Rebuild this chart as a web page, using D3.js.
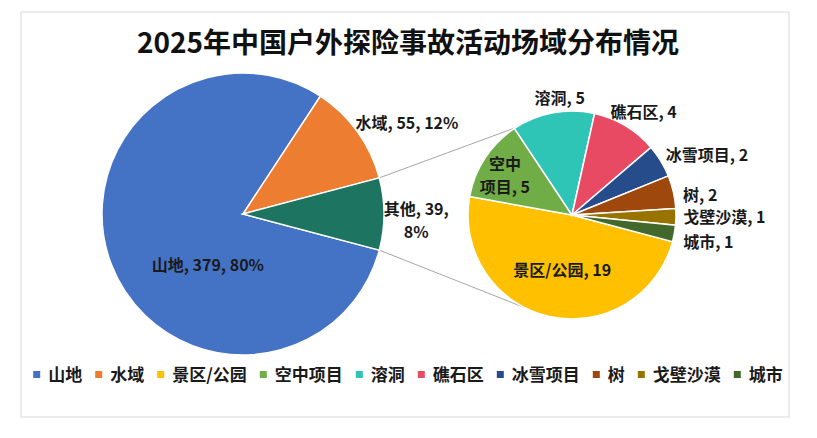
<!DOCTYPE html>
<html>
<head>
<meta charset="utf-8">
<script src="https://cdn.jsdelivr.net/npm/d3@7"></script>
<style>
  body { margin: 0; background: #fff; }
  svg { display: block; font-family: "Noto Sans CJK SC", "Noto Sans", sans-serif; }
</style>
</head>
<body>
<svg width="817" height="438"></svg>
<script>
// main pie
var mainNames = ["山地", "水域", "其他"];
var mainValues = [379, 55, 39];
// second pie, the split of "其他"
var subNames = ["景区/公园", "空中项目", "溶洞", "礁石区", "冰雪项目", "树", "戈壁沙漠", "城市"];
var subValues = [19, 5, 5, 4, 2, 2, 1, 1];
var legendNames = ["山地", "水域", "景区/公园", "空中项目", "溶洞", "礁石区", "冰雪项目", "树", "戈壁沙漠", "城市"];
var title = "2025年中国户外探险事故活动场域分布情况";

var colors = d3.scaleOrdinal()
  .domain(["山地", "水域", "其他", "景区/公园", "空中项目", "溶洞", "礁石区", "冰雪项目", "树", "戈壁沙漠", "城市"])
  .range(["#4472C4", "#ED7D31", "#1D7461", "#FFC000", "#70AD47", "#2EC4B6", "#E84A64", "#264C8C", "#9E480E", "#997300", "#43682B"]);

var svg = d3.select("svg");
var deg = Math.PI / 180;

// chart frame
svg.append("rect")
  .attr("x", 21).attr("y", 12).attr("width", 768).attr("height", 405)
  .attr("fill", "#fff").attr("stroke", "#d9d9d9");

svg.append("text")
  .attr("x", 408).attr("y", 53)
  .attr("text-anchor", "middle")
  .attr("font-size", 28).attr("font-weight", "bold").attr("fill", "#111")
  .text(title);

var total = d3.sum(mainValues);
var otherShare = mainValues[2] / total;
// the "其他" slice is centred on 3 o'clock
var start = Math.PI / 2 + otherShare * Math.PI;

var pie = d3.pie().sort(null).startAngle(start).endAngle(start + 2 * Math.PI);

var mainC = [243, 214], mainR = 141;
var subC = [572, 215], subR = 104;

var mainArcs = pie(mainValues).map((a, i) => Object.assign(a, {name: mainNames[i]}));
var subArcs = pie(subValues).map((a, i) => Object.assign(a, {name: subNames[i]}));

var pct = d3.format(".0%");

function polar(c, r, a) {
  return [c[0] + r * Math.sin(a), c[1] - r * Math.cos(a)];
}

// connector lines from the "其他" slice to the second pie
var other = mainArcs[2];
var lines = [
  [polar(mainC, mainR, other.startAngle), polar(subC, subR, 327 * deg)],
  [polar(mainC, mainR, other.endAngle), polar(subC, subR, 207 * deg)]
];
svg.selectAll("line.conn")
  .data(lines)
  .join("line")
  .attr("class", "conn")
  .attr("x1", d => d[0][0]).attr("y1", d => d[0][1])
  .attr("x2", d => d[1][0]).attr("y2", d => d[1][1])
  .attr("stroke", "#a6a6a6").attr("stroke-width", 1);

var mainArc = d3.arc().innerRadius(0).outerRadius(mainR);
svg.append("g")
  .attr("transform", "translate(" + mainC + ")")
  .selectAll("path")
  .data(mainArcs)
  .join("path")
  .attr("d", mainArc)
  .attr("fill", d => colors(d.name))
  .attr("stroke", "#fff").attr("stroke-width", 1.5);

var subArc = d3.arc().innerRadius(0).outerRadius(subR);
svg.append("g")
  .attr("transform", "translate(" + subC + ")")
  .selectAll("path")
  .data(subArcs)
  .join("path")
  .attr("d", subArc)
  .attr("fill", d => colors(d.name))
  .attr("stroke", "#fff").attr("stroke-width", 1.5);

// label placement: [angle in degrees, radius factor, anchor]
var mainLabelPos = {
  "山地": [214.5, 0.44, "middle"],
  "水域": [61, 1.33, "middle"],
  "其他": [92.3, 1.23, "middle"]
};
var subLabelPos = {
  "景区/公园": [190, 0.54, "middle"],
  "空中项目": [300, 0.745, "middle"],
  "溶洞": [354, 1.13, "middle"],
  "礁石区": [35, 1.2, "middle"],
  "冰雪项目": [57.5, 1.07, "start"],
  "树": [79.8, 1.085, "start"],
  "戈壁沙漠": [91.5, 1.07, "start"],
  "城市": [103.7, 1.1, "start"]
};

function addLabel(c, r, pos, rows) {
  var p = polar(c, r * pos[1], pos[0] * deg);
  var lh = 23;
  rows.forEach(function(s, i) {
    svg.append("text")
      .attr("x", p[0])
      .attr("y", p[1] + 5.5 + (i - (rows.length - 1) / 2) * lh)
      .attr("text-anchor", pos[2])
      .attr("font-size", 16).attr("font-weight", "bold").attr("fill", "#1a1a1a")
      .text(s);
  });
}

mainArcs.forEach(function(a) {
  var v = a.value, s = pct(v / total);
  var rows = a.name == "其他" ? [a.name + ", " + v + ",", s] : [a.name + ", " + v + ", " + s];
  addLabel(mainC, mainR, mainLabelPos[a.name], rows);
});
subArcs.forEach(function(a) {
  var rows = a.name == "空中项目" ? ["空中", "项目, " + a.value] : [a.name + ", " + a.value];
  addLabel(subC, subR, subLabelPos[a.name], rows);
});

// legend
var lg = svg.append("g");
var x = 0;
legendNames.forEach(function(n) {
  var item = lg.append("g").attr("transform", "translate(" + x + ",0)");
  item.append("rect").attr("x", 0).attr("y", -4).attr("width", 7).attr("height", 7).attr("fill", colors(n));
  var t = item.append("text").attr("x", 15).attr("y", 6)
    .attr("font-size", 17).attr("font-weight", "bold").attr("fill", "#1a1a1a").text(n);
  x += 15 + t.node().getComputedTextLength() + 13;
});
var lw = x - 13;
lg.attr("transform", "translate(" + (408 - lw / 2) + ",375)");
</script>
</body>
</html>
